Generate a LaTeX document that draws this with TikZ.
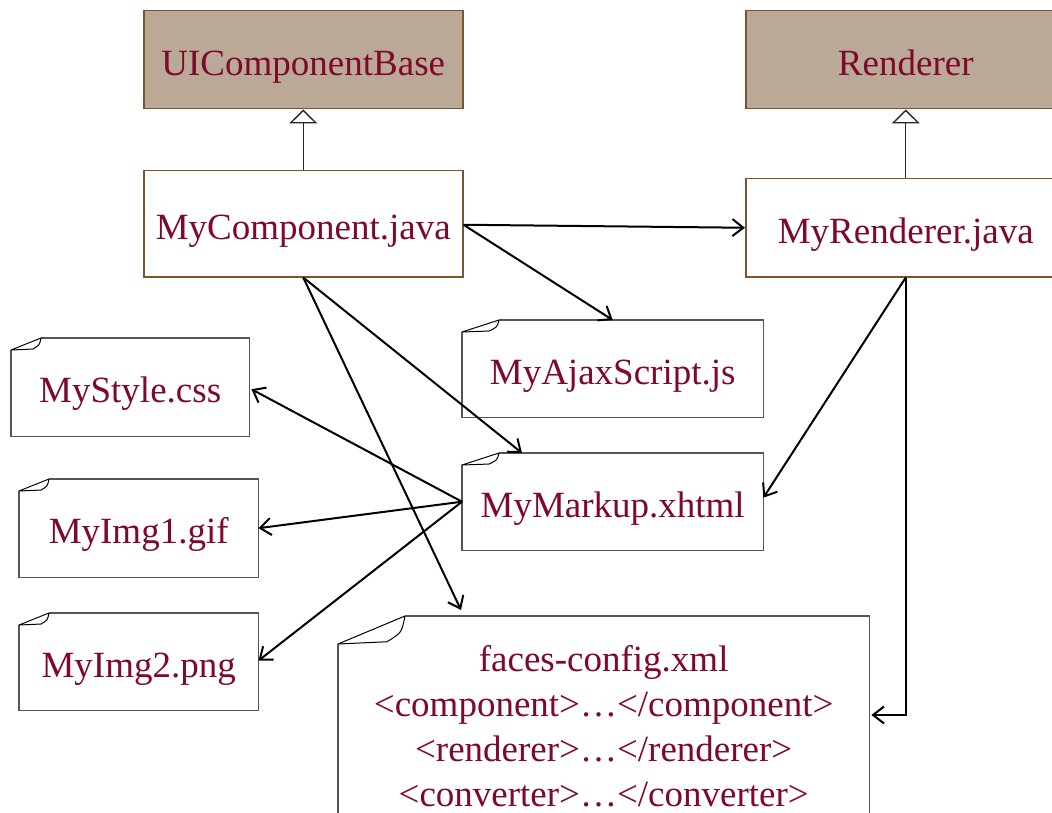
\documentclass[tikz,border=0pt]{standalone}
\usepackage{fontspec}
\setmainfont{Liberation Serif}
\usetikzlibrary{arrows.meta,calc}

\definecolor{txt}{RGB}{128,8,42}
\definecolor{tanfill}{RGB}{185,169,150}
\definecolor{brn}{RGB}{125,85,45}
\definecolor{edgegray}{RGB}{85,85,85}

\tikzset{
  lbl/.style={text=txt, font=\fontsize{37}{45}\selectfont, inner sep=0pt,
              anchor=north west, align=center},
  oneline/.style={text height=31pt, text depth=0pt},
  classbox/.style={lbl, oneline, draw=brn, line width=1.5pt, fill=white},
  basebox/.style={classbox, fill=tanfill},
  notebox/.style={lbl, draw=none, fill=white},
  notefrm/.style={draw=edgegray, line width=1.5pt},
  curl/.style={draw=black, line width=1pt, fill=white, line join=round},
  dep/.style={-{Straight Barb[length=11pt,width=17pt]}, line width=2pt, black},
  inherit/.style={-{Triangle[open,length=14pt,width=28pt,fill=white]},
                  line width=1.3pt, black!85},
}

% outline of a file note with a curled top-left corner
% #1 node name, #2 corner width, #3 corner height
\newcommand\notefold[3]{%
  \draw[notefrm] ($(#1.north west)+(0,#3)$) -- (#1.south west) -- (#1.south east)
     -- (#1.north east) -- ($(#1.north west)+(#2,0)$);
  \draw[curl] ($(#1.north west)+(0,#3)$) -- ($(#1.north west)+(#2,0)$)
     .. controls ($(#1.north west)+(0.95*#2,0.6*#3)$) .. ($(#1.north west)+(0.73*#2,0.92*#3)$)
     -- cycle;
}

\begin{document}
\begin{tikzpicture}[x=1pt,y=-1pt]
\useasboundingbox (0,0) rectangle (1052,813);

% class boxes
\node[basebox, minimum width=319pt, minimum height=98pt] (ucb) at (143,10) {UIComponentBase};
\node[basebox, minimum width=320pt, minimum height=98pt] (ren) at (745,10) {Renderer};
\node[classbox, minimum width=319pt, minimum height=106pt] (myc) at (143,170) {MyComponent.java};
\node[classbox, minimum width=320pt, minimum height=98pt] (myr) at (745,178) {MyRenderer.java};

% file notes
\node[notebox, oneline, minimum width=301pt, minimum height=97pt] (ajax) at (462,320) {MyAjaxScript.js};
\node[notebox, oneline, minimum width=238pt, minimum height=98pt] (css) at (11,338) {MyStyle.css};
\node[notebox, oneline, minimum width=239pt, minimum height=98pt] (img1) at (19,479) {MyImg1.gif};
\node[notebox, oneline, minimum width=239pt, minimum height=97pt] (img2) at (19,613) {MyImg2.png};
\node[notebox, oneline, minimum width=301pt, minimum height=97pt] (mk) at (462,453) {MyMarkup.xhtml};
\node[notebox, minimum width=531pt, minimum height=220pt] (fc) at (338,616)
  {faces-config.xml\\
   \textless component\textgreater…\textless/component\textgreater\\
   \textless renderer\textgreater…\textless/renderer\textgreater\\
   \textless converter\textgreater…\textless/converter\textgreater};

\notefold{ajax}{37}{12}
\notefold{css}{30}{12}
\notefold{img1}{30}{12}
\notefold{img2}{30}{12}
\notefold{mk}{37}{12}
\notefold{fc}{67}{28}

% generalisation
\draw[inherit] (myc.north) -- (ucb.south);
\draw[inherit] (myr.north) -- (ren.south);

% dependencies
\coordinate (mycR) at ($(myc.east)+(0,1)$);
\coordinate (mkTop) at ($(mk.north west)+(60,0)$);
\coordinate (fcTop) at ($(fc.north west)+(123,-6)$);
\coordinate (fcR) at ($(fc.north east)+(2,99)$);

\draw[dep] (mycR) -- (myr.west);
\draw[dep] (mycR) -- (ajax.north);
\draw[dep] (myc.south) -- (mkTop);
\draw[dep] (myc.south) -- (fcTop);

\draw[dep] (mk.west) -- ($(css.east)+(2,2)$);
\draw[dep] (mk.west) -- (img1.east);
\draw[dep] (mk.west) -- ($(img2.east)+(0,-1)$);

\draw[dep] (myr.south) -- ($(mk.east)+(0,-4)$);
\draw[dep] (myr.south) |- (fcR);
\end{tikzpicture}
\end{document}
